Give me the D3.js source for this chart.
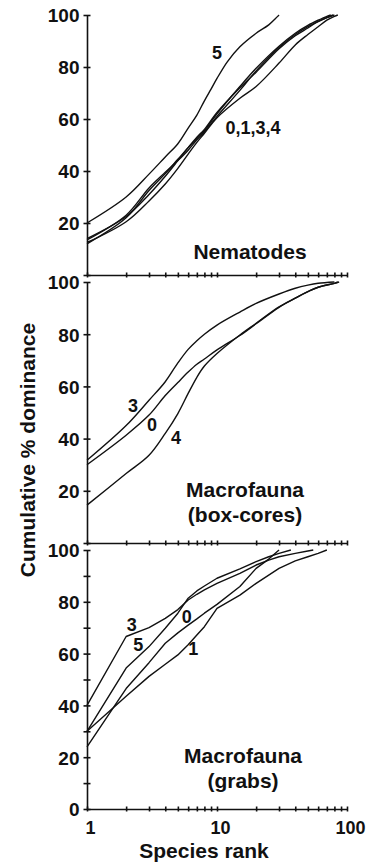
<!DOCTYPE html>
<html>
<head>
<meta charset="utf-8">
<script src="https://cdn.jsdelivr.net/npm/d3@7"></script>
<style>
  body { margin: 0; background: #fff; }
  svg text { font-family: "Liberation Sans", Arial, sans-serif; font-weight: bold; fill: #111; }
</style>
</head>
<body>
<svg id="chart"></svg>
<script>
// cumulative % dominance curves, [species rank, value]
const nem0 = [[1,12],[2,22],[3,32.5],[4,39],[5,44.5],[6,49],[7,52.5],[8,55.5],[10,62],[15,72.5],[20,79.5],[30,88],[40,93],[50,96],[60,98],[70,99.5],[75,100]];
const nem1 = [[1,13.5],[2,23],[3,33.5],[4,39.5],[5,44],[6,48],[7,52],[8,55],[10,61],[15,71],[20,78.5],[30,87.5],[40,92.5],[50,95.5],[60,97.5],[70,99],[78,100]];
const nem3 = [[1,14],[2,22.5],[3,31],[4,38],[5,44],[6,49],[7,53],[8,56],[10,62.5],[15,72],[20,78],[30,87],[40,92],[50,95],[60,97.5],[70,99],[80,100]];
const nem4 = [[1,12.5],[2,20.5],[3,28.5],[4,35],[5,41],[6,46.5],[7,51],[8,54.5],[10,60.5],[15,68],[20,72.5],[30,81.5],[40,88.5],[50,92.5],[60,95.5],[70,98],[80,99.5],[85,100]];
const nem5 = [[1,20],[2,30],[3,38.8],[4,45.4],[5,50.5],[6,56.5],[7,61.5],[8,67],[9,71.5],[10,75.6],[12,82],[15,87.8],[20,93],[25,96.2],[30,100]];

const box0 = [[1,30],[2,41.3],[3,49],[4,56.5],[5,61.5],[6,65.5],[7,68.5],[8,70.5],[10,74],[15,79.5],[20,84],[30,90.3],[40,93.8],[50,96.3],[60,98],[80,99.5],[87,100]];
const box3 = [[1,31.7],[2,45],[3,54.7],[4,61.8],[5,69],[6,74.2],[7,77.5],[8,80],[10,83.5],[15,88.5],[20,91.8],[30,95.4],[40,97.6],[50,98.8],[60,99.5],[80,100]];
const box4 = [[1,14.5],[2,26.6],[3,33.6],[4,42],[5,49.6],[6,57.3],[7,63.5],[8,67.8],[10,72.6],[15,79.7],[20,84.2],[30,90.5],[40,93.8],[50,96.3],[60,98],[80,99.5],[85,100]];

const grab0 = [[1,24],[2,46.5],[3,56.5],[4,64],[5,68],[6,71],[7,73.4],[8,75.6],[10,79],[15,85.9],[20,92.9],[25,96.5],[30,100]];
const grab1 = [[1,30],[2,43.5],[3,51.2],[4,55.9],[5,59.5],[6,63.4],[7,67.2],[8,70.4],[10,77.5],[15,82.6],[20,87.1],[30,92.9],[40,95.8],[50,97.4],[60,98.7],[70,100]];
const grab3 = [[1,40],[2,66.6],[3,70],[4,73.6],[5,77],[6,80.7],[7,82.9],[8,84.6],[10,87.1],[15,91],[20,94.2],[25,96.1],[30,97.4],[40,98.7],[50,99.6],[55,100]];
const grab5 = [[1,30],[2,54.4],[3,62.7],[4,69.8],[5,75.6],[6,81.4],[7,84.2],[8,86.1],[10,89.1],[15,92.7],[20,95.5],[25,97.4],[30,98.7],[37,100]];

// curve labels: [text, rank, value]
const nemLabels = [["5",10,85.4],["0,1,3,4",18.9,56.9]];
const boxLabels = [["3",2.26,52.8],["0",3.16,45.5],["4",4.84,40.5]];
const grabLabels = [["3",2.21,71.1],["5",2.48,63.4],["0",5.85,74.3],["1",6.57,62.1]];

const yTickLabels = [20,40,60,80,100];
const xTickLabels = [1,10,100];
const xTickValues = [1,2,3,4,5,6,7,8,9,10,20,30,40,50,60,70,80,90,100];

let width = 372;
let height = 865;

let svg = d3.select("#chart")
    .attr("width", width)
    .attr("height", height);

let x = d3.scaleLog()
    .domain([1, 100])
    .range([87, 347]);

let panels = [
    { top: 15,  bottom: 275, series: [nem0, nem1, nem3, nem4, nem5], labels: nemLabels,
      title: ["Nematodes"], titleX: 250, titleY: 259, minor: false, smooth: true, zero: false },
    { top: 282, bottom: 543, series: [box0, box3, box4], labels: boxLabels,
      title: ["Macrofauna", "(box-cores)"], titleX: 245, titleY: 497, minor: false, smooth: true, zero: false },
    { top: 550, bottom: 809, series: [grab0, grab1, grab3, grab5], labels: grabLabels,
      title: ["Macrofauna", "(grabs)"], titleX: 243, titleY: 763, minor: true, smooth: false, zero: true }
];

panels.forEach(function(p, i) {
    let y = d3.scaleLinear()
        .domain([0, 100])
        .range([p.bottom, p.top]);

    let g = svg.append("g");

    // y axis, ticks cross the line
    let yVals = p.minor ? d3.range(0, 101, 10) : [0].concat(yTickLabels);
    let yAxis = d3.axisLeft(y)
        .tickValues(yVals)
        .tickSizeInner(3.5)
        .tickSizeOuter(0)
        .tickPadding(4)
        .tickFormat(function(d) {
            if (d === 0) return p.zero ? "0" : "";
            return yTickLabels.includes(d) ? d : "";
        });
    let ya = g.append("g")
        .attr("transform", "translate(" + x.range()[0] + ",0)")
        .call(yAxis);
    ya.selectAll(".tick line").attr("x1", 3.5);
    ya.selectAll("text").style("font-size", "19px").attr("dy", "0.36em");

    // x axis
    let xAxis = d3.axisBottom(x)
        .tickValues(xTickValues)
        .tickSizeInner(2.5)
        .tickSizeOuter(0)
        .tickFormat(function(d) {
            return (i === 2 && xTickLabels.includes(d)) ? d : "";
        });
    let xa = g.append("g")
        .attr("transform", "translate(0," + p.bottom + ")")
        .call(xAxis);
    xa.selectAll(".tick line").attr("y1", -2.5);
    xa.selectAll("text")
        .style("font-size", "18px")
        .attr("y", 25)
        .attr("dy", 0)
        .attr("dx", 3);

    g.selectAll(".domain, .tick line")
        .attr("stroke", "#111")
        .attr("stroke-width", 1.6);

    // curves
    let line = d3.line()
        .x(function(d) { return x(d[0]); })
        .y(function(d) { return y(d[1]); })
        .curve(p.smooth ? d3.curveCatmullRom.alpha(0.5) : d3.curveLinear);

    g.selectAll(".curve")
        .data(p.series)
        .enter()
        .append("path")
        .attr("class", "curve")
        .attr("fill", "none")
        .attr("stroke", "#111")
        .attr("stroke-width", 1.4)
        .attr("stroke-linejoin", "round")
        .attr("d", line);

    g.selectAll(".lab")
        .data(p.labels)
        .enter()
        .append("text")
        .attr("class", "lab")
        .attr("x", function(d) { return x(d[1]); })
        .attr("y", function(d) { return y(d[2]); })
        .attr("dy", "0.36em")
        .attr("text-anchor", "middle")
        .style("font-size", "18px")
        .text(function(d) { return d[0]; });

    g.selectAll(".title")
        .data(p.title)
        .enter()
        .append("text")
        .attr("class", "title")
        .attr("x", p.titleX)
        .attr("y", function(d, k) { return p.titleY + k * 25; })
        .attr("text-anchor", "middle")
        .style("font-size", "21px")
        .text(function(d) { return d; });
});

// axis titles
svg.append("text")
    .attr("transform", "translate(35,450) rotate(-90)")
    .attr("text-anchor", "middle")
    .style("font-size", "21px")
    .text("Cumulative % dominance");

svg.append("text")
    .attr("x", 204)
    .attr("y", 858)
    .attr("text-anchor", "middle")
    .style("font-size", "21px")
    .text("Species rank");
</script>
</body>
</html>
